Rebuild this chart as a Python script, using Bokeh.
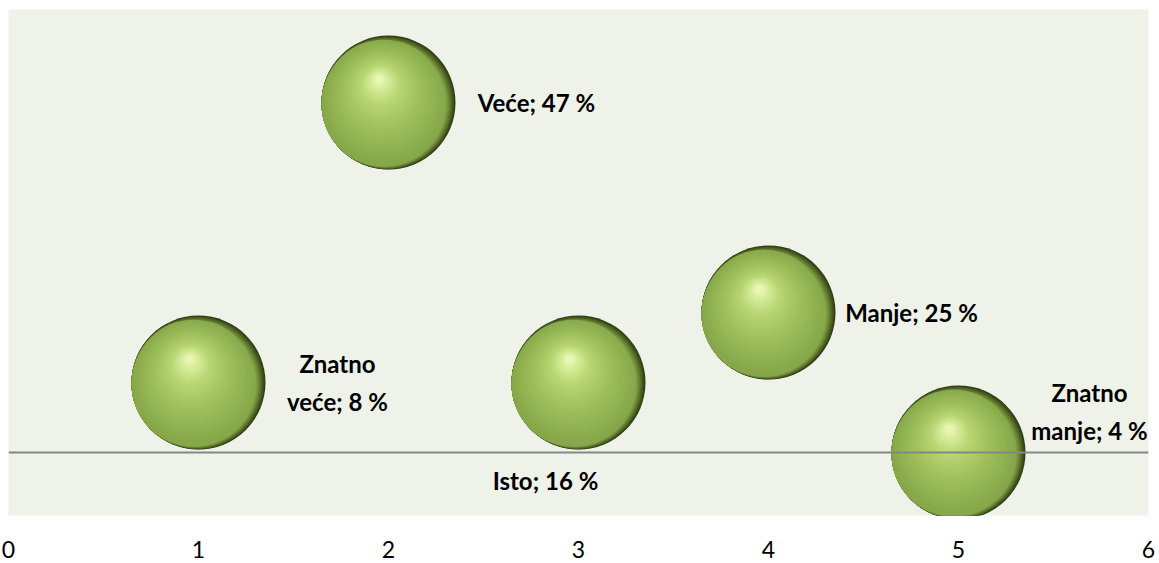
from bokeh.plotting import figure
from bokeh.models import Range1d, FixedTicker, Span, ColumnDataSource
from bokeh.core.properties import value
from bokeh.embed import file_html
from bokeh.resources import INLINE

# ---- data ----
categories = ["Znatno veće", "Veće", "Isto", "Manje", "Znatno manje"]
percents = [8, 47, 16, 25, 4]
x_vals = [1, 2, 3, 4, 5]
y_vals = [1, 5, 1, 2, 0]
x_ticks = [0, 1, 2, 3, 4, 5, 6]

# ---- layout / style ----
W, H = 1159, 563
BL, BR, BT, BB = 8, 11, 9, 48
X0, X1 = 0, 6
Y0, Y1 = -0.9, 6.33
FW = W - BL - BR
FH = H - BT - BB
PXX = FW / (X1 - X0)
PXY = FH / (Y1 - Y0)
R = 67.0  # bubble radius in px

wrap = [True, False, False, False, True]
lab_dx = [139, 148, -33, 143, 131]
lab_dy = [0, 0, 98, 0, -41]

p = figure(width=W, height=H, output_backend="svg", toolbar_location=None,
           x_range=Range1d(X0, X1), y_range=Range1d(Y0, Y1),
           min_border_left=BL, min_border_right=BR, min_border_top=BT,
           min_border_bottom=BB)
p.background_fill_color = "#EFF2E9"
p.border_fill_color = "white"
p.outline_line_color = None
p.grid.visible = False
p.yaxis.visible = False

ax = p.xaxis[0]
ax.ticker = FixedTicker(ticks=x_ticks)
ax.axis_line_color = None
ax.major_tick_line_color = None
ax.minor_tick_line_color = None
ax.major_label_text_font = "Lato"
ax.major_label_text_font_size = "23px"
ax.major_label_text_color = "black"
ax.major_label_standoff = 19

p.add_layout(Span(location=0, dimension="width", line_color="#868686",
                  line_width=2))


def hex2rgb(h):
    h = h.lstrip("#")
    return [int(h[i:i + 2], 16) for i in (0, 2, 4)]


def lerp_color(stops, t):
    for (t0, c0), (t1, c1) in zip(stops[:-1], stops[1:]):
        if t <= t1:
            f = 0 if t1 == t0 else (t - t0) / (t1 - t0)
            a, b = hex2rgb(c0), hex2rgb(c1)
            return "#%02x%02x%02x" % tuple(int(round(a[i] + (b[i] - a[i]) * f)) for i in range(3))
    return stops[-1][1]


def layer(dx, dy, rad, color):
    xs = [x + dx * R / PXX for x in x_vals]
    ys = [y - dy * R / PXY for y in y_vals]
    p.scatter(xs, ys, size=2 * rad * R, marker="circle",
              fill_color=color, line_color=None)


# stage 1: shadow crescent on right / bottom-right (left edge stays fixed)
shade = [(0.0, "#2e3a12"), (0.35, "#4f6425"), (0.7, "#6f8c38"), (1.0, "#87a84a")]
M = 12
A, B = 0.07, -0.025
for k in range(M):
    s = k / (M - 1)
    layer(-A * s, -B * s, 1.0 - A * s, lerp_color(shade, s))

# stage 2: focal gradient toward highlight
stops = [(0.0, "#87a84a"), (0.4, "#9fc05c"), (0.7, "#b8d674"),
         (0.88, "#d6ec98"), (1.0, "#eef9bd")]
N = 34
c0 = (-A, B)
c1 = (-0.14, -0.36)
r0 = 1.0 - A
for k in range(1, N):
    s = k / N
    cx = c0[0] * (1 - s) + c1[0] * s
    cy = c0[1] * (1 - s) + c1[1] * s
    rad = r0 * (1 - s) + 0.03 * s
    layer(cx, cy, rad, lerp_color(stops, s))

texts = []
for c, v, w in zip(categories, percents, wrap):
    t = f"{c}; {v} %"
    if w:
        t = t.replace(" ", "\n", 1)
    texts.append(t)

src = ColumnDataSource(dict(x=x_vals, y=y_vals, text=texts, dx=lab_dx, dy=lab_dy))
p.text(x="x", y="y", text="text", x_offset="dx", y_offset="dy", source=src,
       text_font=value("Lato"), text_font_style="bold", text_font_size="24px",
       text_color="black", text_align="center", text_baseline="middle",
       text_line_height=1.3)

open("out.html", "w").write(file_html(p, INLINE))
